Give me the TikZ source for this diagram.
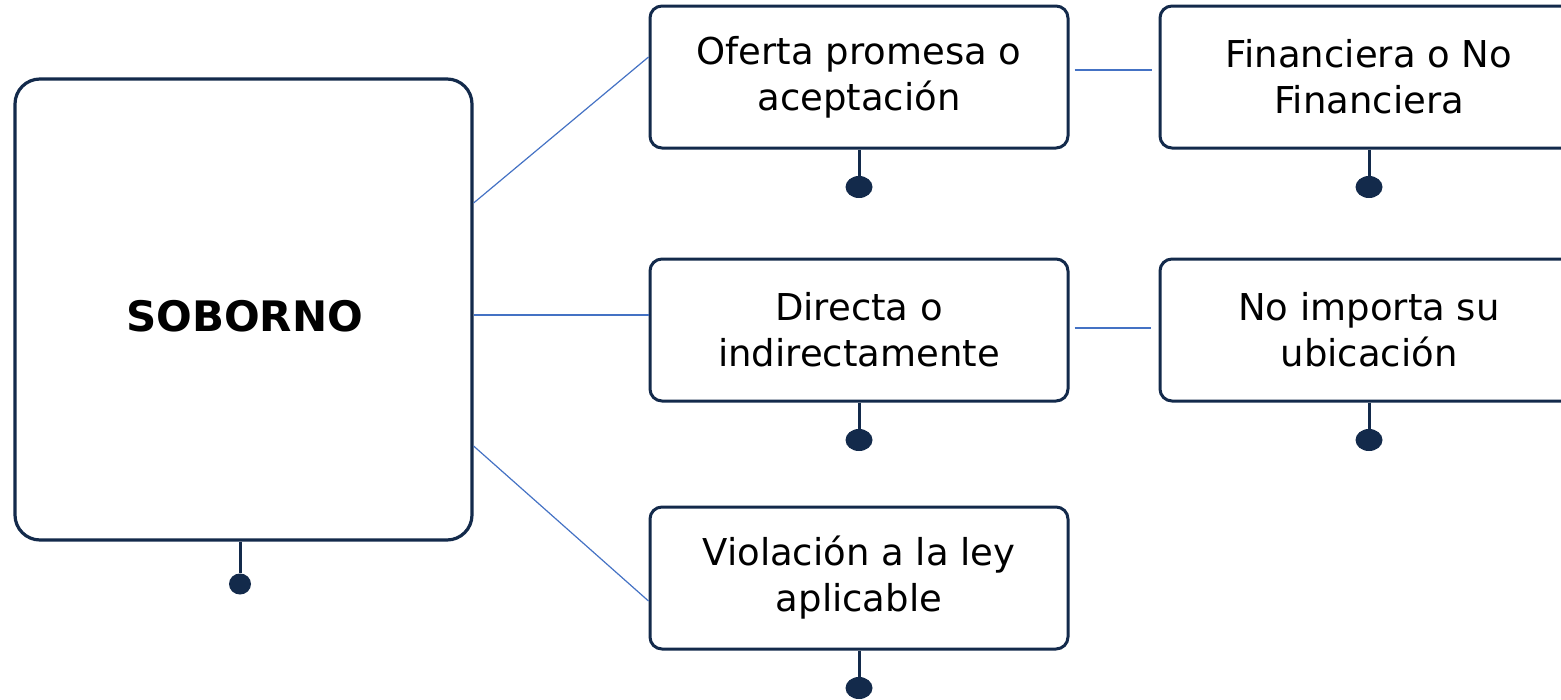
\documentclass[tikz,border=0pt]{standalone}
\usepackage{fontspec}
\setmainfont{DejaVu Sans}
\usetikzlibrary{shapes.geometric}
\definecolor{navy}{HTML}{132A4B}
\definecolor{linkblue}{HTML}{4472C4}
\tikzset{
  box/.style={draw=navy, line width=3pt, fill=white, rounded corners=12pt,
    minimum width=418pt, minimum height=142pt, inner sep=0pt, align=center,
    font=\fontsize{37}{46}\selectfont, text=black},
  bigbox/.style={draw=navy, line width=3.2pt, fill=white, rounded corners=25pt,
    minimum width=457pt, minimum height=461pt, inner sep=0pt},
  dotnode/.style={ellipse, fill=navy, draw=none, minimum width=27pt, minimum height=22pt, inner sep=0pt},
  smalldot/.style={ellipse, fill=navy, draw=none, minimum width=22pt, minimum height=21pt, inner sep=0pt},
  stem/.style={draw=navy, line width=3pt},
  link/.style={draw=linkblue, line width=1.2pt},
  title/.style={font=\fontsize{42}{50}\selectfont\bfseries, text=black, inner sep=0pt}
}
\begin{document}
\begin{tikzpicture}[x=1pt,y=-1pt]
\useasboundingbox (0,0) rectangle (1561,699);
% main box
\node[bigbox] (sob) at (243.5,309.5) {};
\node[title] (soblabel) at (244.5,316) {SOBORNO};
% boxes
\node[box] (oferta) at (859,77) {Oferta promesa o\\aceptación};
\node[box] (fin) at (1369,77) {Financiera o No\\Financiera};
\node[box] (dir) at (859,330) {Directa o\\indirectamente};
\node[box] (ubi) at (1369,330) {No importa su\\ubicación};
\node[box] (viol) at (859,578) {Violación a la ley\\aplicable};
% dots
\node[smalldot] (d0) at (240,584) {};
\node[dotnode] (d1) at (859,187) {};
\node[dotnode] (d2) at (1369,187) {};
\node[dotnode] (d3) at (859,440) {};
\node[dotnode] (d4) at (1369,440) {};
\node[dotnode] (d5) at (859,688) {};
% stems
\draw[stem] ([xshift=-3.5pt]sob.south) -- (d0);
\draw[stem] (oferta.south) -- (d1);
\draw[stem] (fin.south) -- (d2);
\draw[stem] (dir.south) -- (d3);
\draw[stem] (ubi.south) -- (d4);
\draw[stem] (viol.south) -- (d5);
% connectors
\draw[link] ([yshift=106.5pt]sob.east) -- ([yshift=20pt]oferta.west);
\draw[link] ([yshift=-5.5pt]sob.east) -- ([yshift=15pt]dir.west);
\draw[link] ([yshift=-136.5pt]sob.east) -- ([yshift=-23pt]viol.west);
\draw[link] ([xshift=5pt,yshift=7pt]oferta.east) -- ([xshift=-7pt,yshift=7pt]fin.west);
\draw[link] ([xshift=5pt,yshift=2pt]dir.east) -- ([xshift=-8pt,yshift=2pt]ubi.west);
\end{tikzpicture}
\end{document}
